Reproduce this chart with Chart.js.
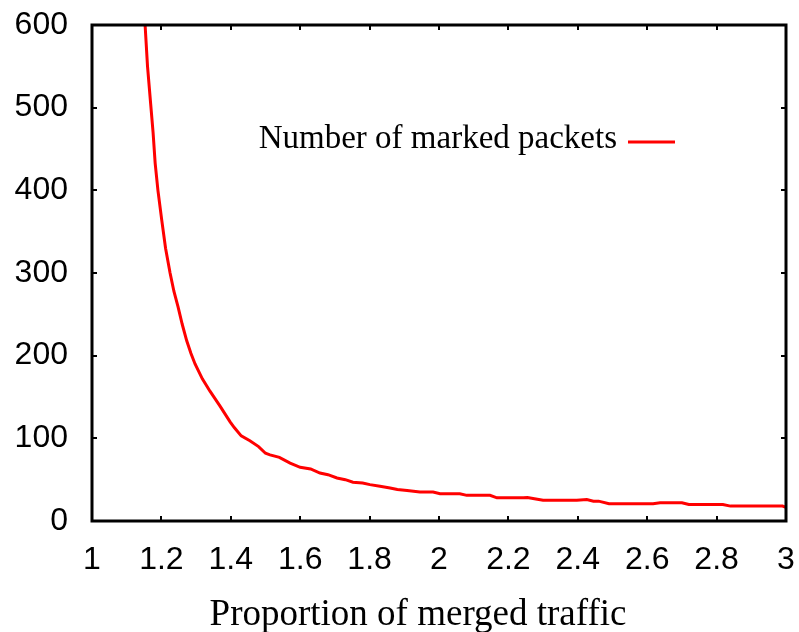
<!DOCTYPE html>
<html>
<head>
<meta charset="utf-8">
<script src="https://cdn.jsdelivr.net/npm/chart.js@4/dist/chart.umd.min.js"></script>
<style>
  html, body { margin: 0; padding: 0; background: #fff; }
  #wrap { width: 799px; height: 632px; }
</style>
</head>
<body>
<div id="wrap"><canvas id="c" width="799" height="632"></canvas></div>
<script>
// ---- data ----
const seriesLabel = 'Number of marked packets';
const xTitle = 'Proportion of merged traffic';
const xValues = [1.153, 1.160, 1.169, 1.176, 1.182, 1.190, 1.201, 1.212, 1.225, 1.236,
  1.248, 1.260, 1.273, 1.285, 1.297, 1.318, 1.340, 1.369, 1.398, 1.410,
  1.430, 1.455, 1.480, 1.500, 1.513, 1.540, 1.571, 1.600, 1.630, 1.657,
  1.680, 1.706, 1.730, 1.752, 1.780, 1.801, 1.830, 1.859, 1.880, 1.908,
  1.945, 1.983, 2.003, 2.060, 2.080, 2.147, 2.167, 2.243, 2.255, 2.275,
  2.300, 2.397, 2.426, 2.445, 2.460, 2.490, 2.617, 2.637, 2.700, 2.720,
  2.818, 2.840, 2.990, 3.000];
const yValues = [600, 550, 505, 470, 433, 400, 364, 330, 300, 278,
  259, 238, 218, 203, 190, 172, 157, 139, 120, 113,
  103, 97, 90, 82, 80, 77, 70, 65, 63, 58,
  56, 52, 50, 47, 46, 44, 42, 40, 38, 37,
  35, 35, 33, 33, 31, 31, 28, 28, 28.5, 27,
  25, 25, 26, 24, 24, 21, 21, 22, 22, 20,
  20, 18, 18, 16.5];
const xMin = 1, xMax = 3, xStep = 0.2;
const yMin = 0, yMax = 600, yStep = 100;

const points = xValues.map((x, i) => ({ x: x, y: yValues[i] }));

// frame + inward ticks on all four sides (gnuplot style), drawn from the scales
const framePlugin = {
  id: 'frame',
  afterDatasetsDraw(chart) {
    const ctx = chart.ctx, a = chart.chartArea;
    const xs = chart.scales.x, ys = chart.scales.y;
    ctx.save();
    ctx.strokeStyle = '#000';
    ctx.lineWidth = 2;
    const tl = 5;
    ctx.beginPath();
    xs.ticks.forEach(t => {
      const px = Math.round(xs.getPixelForValue(t.value));
      if (px <= a.left + 1 || px >= a.right - 1) return;
      ctx.moveTo(px, a.bottom); ctx.lineTo(px, a.bottom - tl);
      ctx.moveTo(px, a.top); ctx.lineTo(px, a.top + tl);
    });
    ys.ticks.forEach(t => {
      const py = Math.round(ys.getPixelForValue(t.value));
      if (py <= a.top + 1 || py >= a.bottom - 1) return;
      ctx.moveTo(a.left, py); ctx.lineTo(a.left + tl, py);
      ctx.moveTo(a.right, py); ctx.lineTo(a.right - tl, py);
    });
    ctx.stroke();
    ctx.lineWidth = 3;
    ctx.strokeRect(a.left, a.top, a.right - a.left, a.bottom - a.top);
    ctx.restore();
  }
};

// key placed inside the plot, text then line sample (gnuplot style)
const keyPlugin = {
  id: 'key',
  afterDraw(chart) {
    const ctx = chart.ctx, a = chart.chartArea;
    const ds = chart.data.datasets[0];
    const sampleRight = a.right - 111;
    const sampleLeft = sampleRight - 47;
    const yMid = a.top + 117;
    ctx.save();
    ctx.font = '33px "Liberation Serif", "Times New Roman", serif';
    ctx.fillStyle = '#000';
    ctx.textAlign = 'right';
    ctx.textBaseline = 'middle';
    ctx.fillText(ds.label, sampleLeft - 11, yMid - 3);
    ctx.strokeStyle = ds.borderColor;
    ctx.lineWidth = ds.borderWidth;
    ctx.beginPath();
    ctx.moveTo(sampleLeft, yMid);
    ctx.lineTo(sampleRight, yMid);
    ctx.stroke();
    // x-axis title, centred slightly left of the plot centre as in the reference
    ctx.font = '37px "Liberation Serif", "Times New Roman", serif';
    ctx.fillStyle = '#000';
    ctx.textAlign = 'center';
    ctx.textBaseline = 'alphabetic';
    ctx.fillText(chart.options.scales.x.title.text, (a.left + a.right) / 2 - 21, a.bottom + 104);
    ctx.restore();
  }
};

new Chart(document.getElementById('c'), {
  type: 'line',
  data: {
    datasets: [{
      label: seriesLabel,
      data: points,
      borderColor: '#ff0000',
      borderWidth: 3,
      pointRadius: 0,
      tension: 0,
      fill: false
    }]
  },
  options: {
    responsive: false,
    animation: false,
    devicePixelRatio: 1,
    layout: { padding: { top: 25, right: 13, left: 0, bottom: 0 } },
    plugins: {
      legend: { display: false },
      tooltip: { enabled: false }
    },
    scales: {
      x: {
        type: 'linear',
        min: xMin, max: xMax,
        border: { display: false },
        grid: { display: false, drawTicks: false },
        ticks: {
          stepSize: xStep,
          padding: 20,
          color: '#000',
          font: { family: '"Liberation Sans", Arial, sans-serif', size: 32 },
          maxRotation: 0,
          autoSkip: false,
          callback: v => String(+Number(v).toFixed(1))
        },
        title: {
          display: false,
          text: xTitle
        },
        afterFit(scale) {
          scale.height = 111;
          scale.paddingLeft = 0; scale.paddingRight = 0;
        }
      },
      y: {
        type: 'linear',
        min: yMin, max: yMax,
        border: { display: false },
        grid: { display: false, drawTicks: false },
        ticks: {
          stepSize: yStep,
          padding: 24,
          color: '#000',
          font: { family: '"Liberation Sans", Arial, sans-serif', size: 32 }
        },
        afterFit(scale) {
          scale.width = 92;
          scale.paddingTop = 0; scale.paddingBottom = 0;
        }
      }
    }
  },
  plugins: [framePlugin, keyPlugin]
});
</script>
</body>
</html>
